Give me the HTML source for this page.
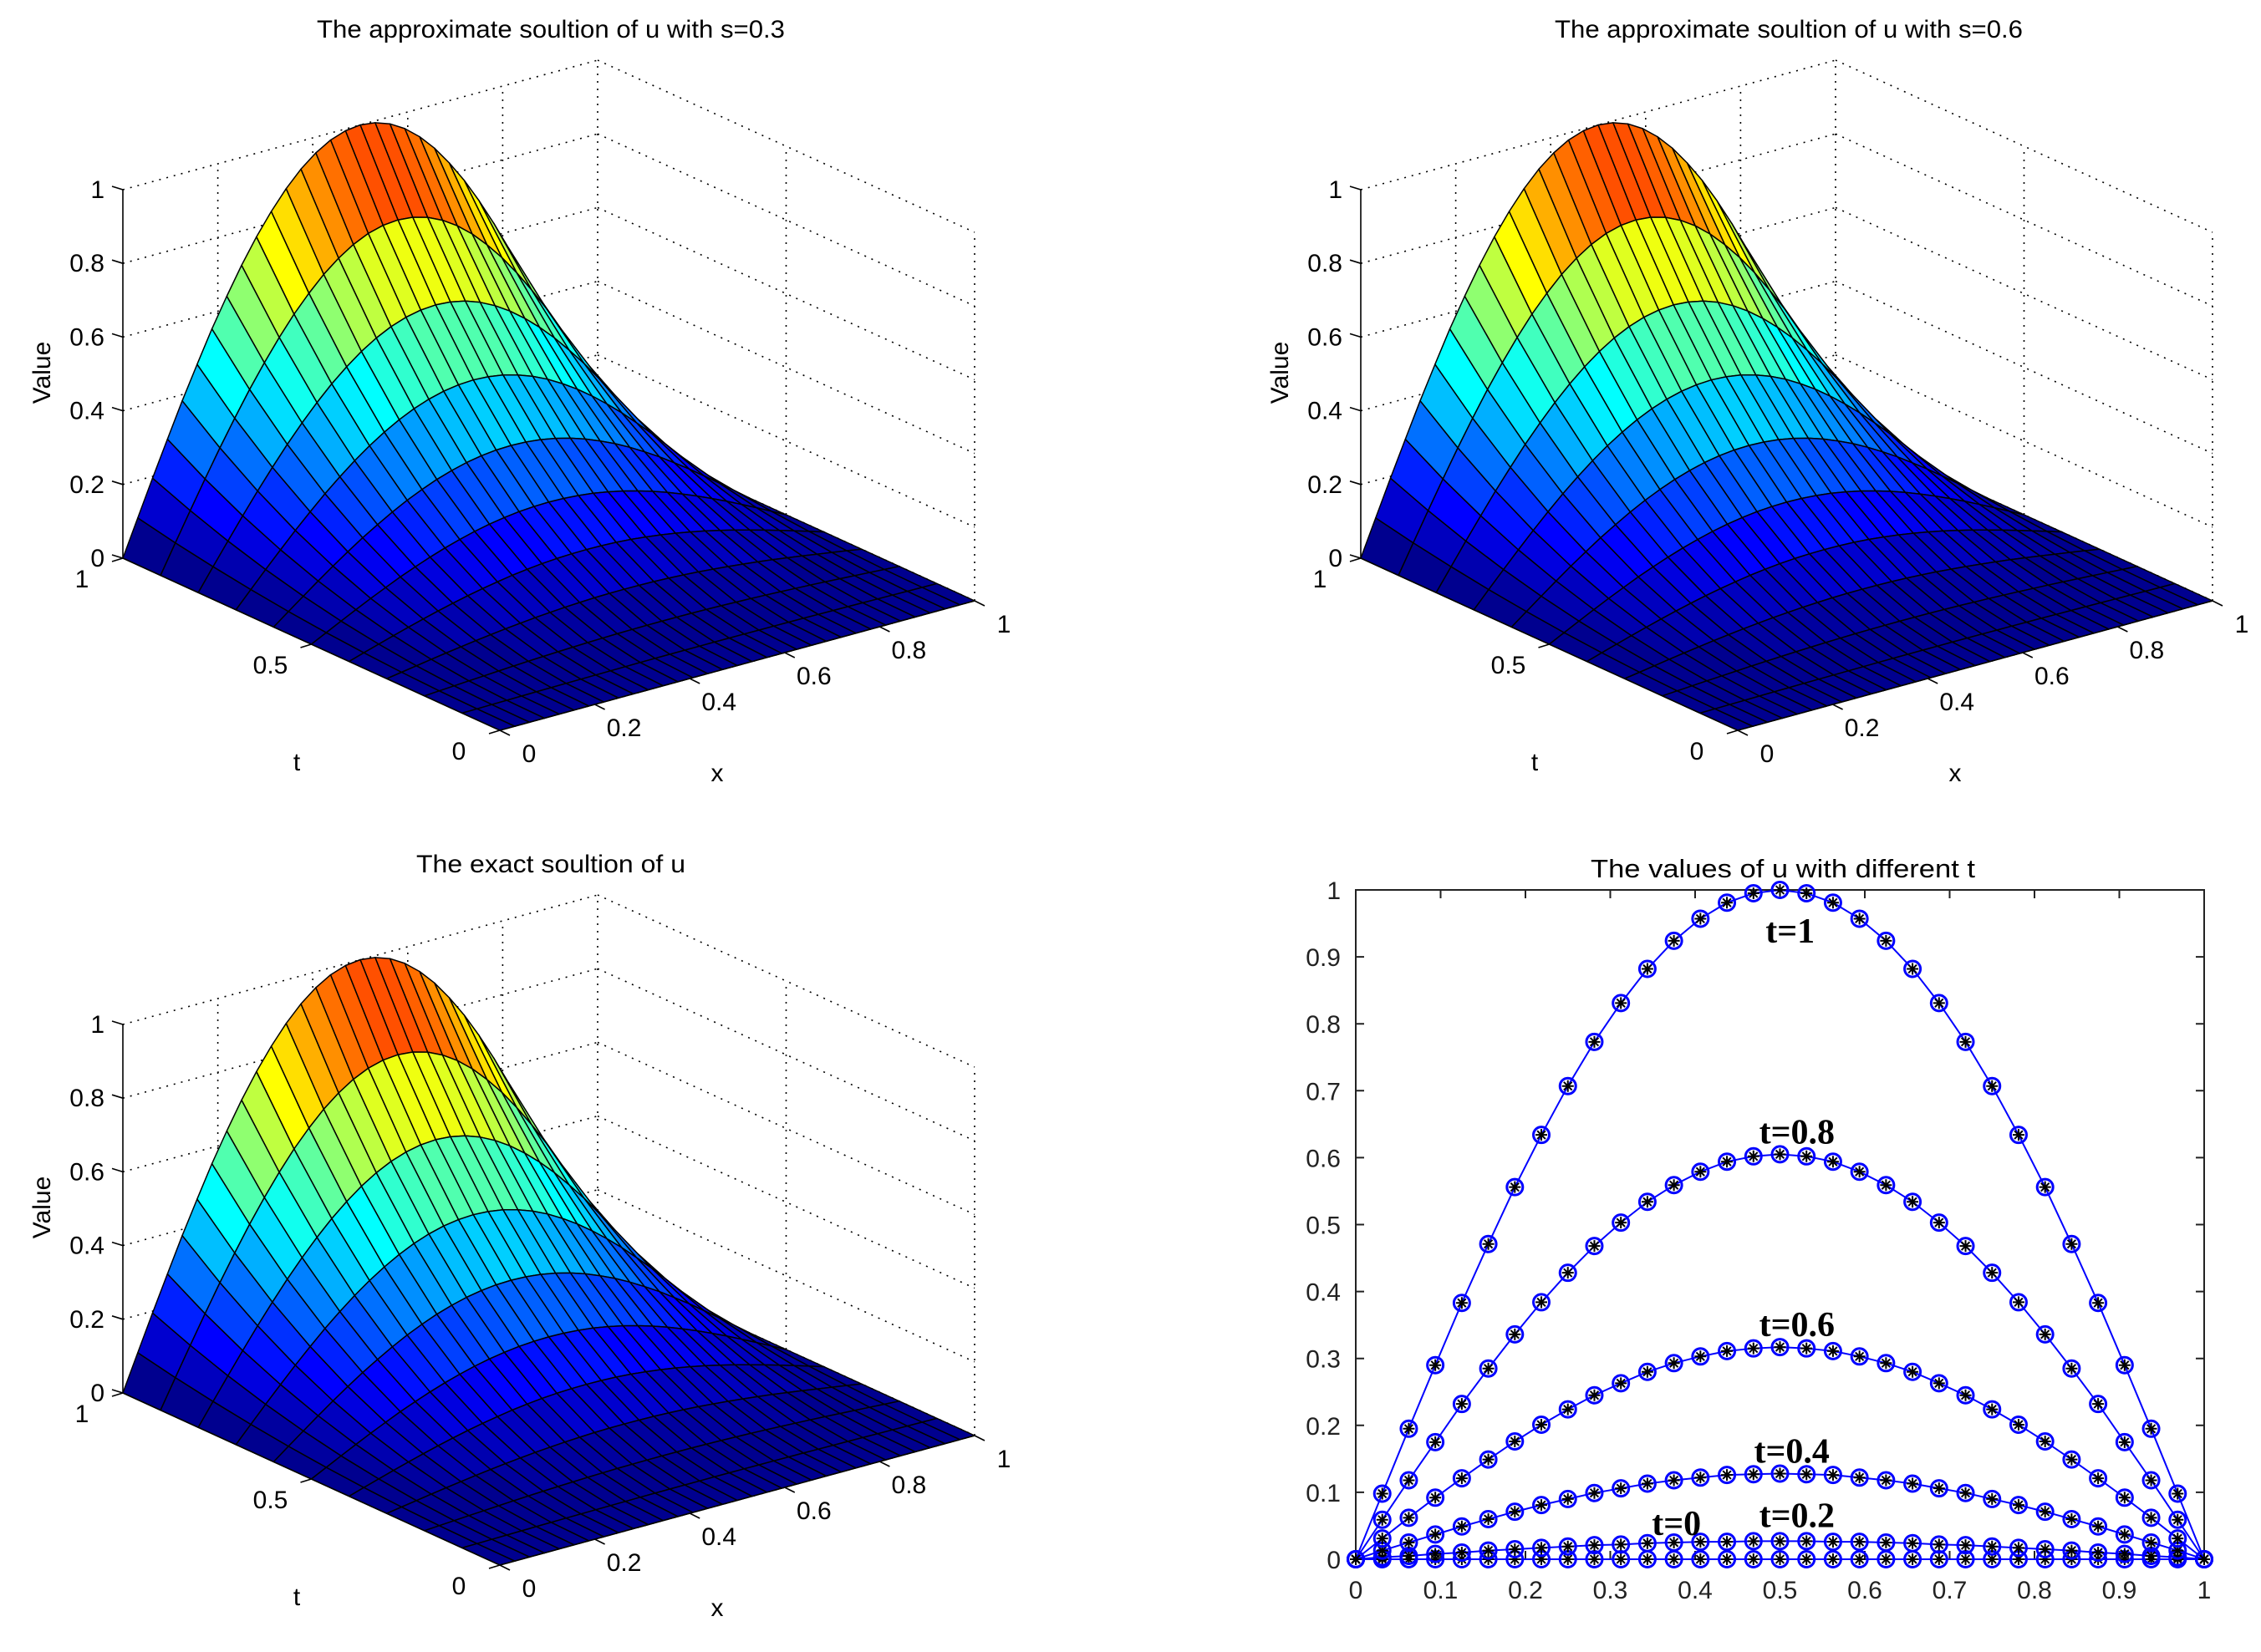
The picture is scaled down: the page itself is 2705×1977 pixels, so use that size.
<!DOCTYPE html>
<html><head><meta charset="utf-8"><title>u solutions</title>
<style>html,body{margin:0;padding:0;background:#fff}svg{display:block}</style></head>
<body>
<svg id="fig" xmlns="http://www.w3.org/2000/svg" width="2705" height="1977" viewBox="0 0 2705 1977" font-family="Liberation Sans, Arial, sans-serif">
<rect width="2705" height="1977" fill="#fff"/>
</svg>
<script>
// ---- data ----
const xTicks3d = [0, 0.2, 0.4, 0.6, 0.8, 1];
const tTicks3d = [0, 0.5, 1];
const zTicks3d = [0, 0.2, 0.4, 0.6, 0.8, 1];
const tGrid = [0, 0.1, 0.2, 0.3, 0.4, 0.5, 0.6, 0.7, 0.8, 0.9, 1];
const ampS03 = [0, 0.006, 0.027, 0.067, 0.128, 0.21, 0.317, 0.448, 0.605, 0.789, 1];
const ampS06 = [0, 0.006, 0.027, 0.067, 0.128, 0.21, 0.317, 0.448, 0.605, 0.789, 1];
const ampExact = [0, 0.006, 0.027, 0.067, 0.128, 0.21, 0.317, 0.448, 0.605, 0.789, 1];
const half1 = [0, .098, .195, .290, .383, .471, .556, .634, .707, .773, .831, .882, .924, .957, .981, .995, 1];
const half08 = [0, .059, .118, .175, .232, .285, .336, .384, .428, .468, .503, .534, .559, .579, .594, .602, .605];
const half06 = [0, .031, .062, .092, .121, .149, .176, .201, .224, .245, .263, .280, .293, .303, .311, .315, .317];
const half04 = [0, .013, .025, .037, .049, .060, .071, .081, .090, .099, .106, .113, .118, .122, .126, .127, .128];
const half02 = [0, .003, .005, .008, .010, .013, .015, .017, .019, .021, .022, .024, .025, .026, .026, .027, .027];
const half00 = [0, 0, 0, 0, 0, 0, 0, 0, 0, 0, 0, 0, 0, 0, 0, 0, 0];
const xTicks2d = [0, 0.1, 0.2, 0.3, 0.4, 0.5, 0.6, 0.7, 0.8, 0.9, 1];
const yTicks2d = [0, 0.1, 0.2, 0.3, 0.4, 0.5, 0.6, 0.7, 0.8, 0.9, 1];
const seriesNames = ['t=0', 't=0.2', 't=0.4', 't=0.6', 't=0.8', 't=1'];
const labelX = [0.378, 0.52, 0.514, 0.52, 0.52, 0.512];
const labelY = [0.055, 0.067, 0.163, 0.352, 0.64, 0.94];

const mirror = h => h.concat(h.slice(0, -1).reverse());
const profile = mirror(half1);
const xs = profile.map((_, i) => i / (profile.length - 1));
const series = [half00, half02, half04, half06, half08, half1].map(mirror);

const NS = 'http://www.w3.org/2000/svg';
const svg = document.getElementById('fig');
function mk(tag, attrs, parent) {
  const e = document.createElementNS(NS, tag);
  for (const k in attrs) e.setAttribute(k, attrs[k]);
  (parent || svg).appendChild(e);
  return e;
}
function txt(s, attrs, parent) { const e = mk('text', attrs, parent); e.textContent = s; return e; }

// MATLAB jet(64)
function jet(v) {
  let i = Math.floor(v * 64) + 1; if (i > 64) i = 64; if (i < 1) i = 1;
  const u = k => (k < 1 || k > 47) ? 0 : (k <= 16 ? k / 16 : (k <= 31 ? 1 : (48 - k) / 16));
  const r = u(i - 24), g = u(i - 8), b = u(i + 8);
  return `rgb(${Math.round(r*255)},${Math.round(g*255)},${Math.round(b*255)})`;
}

function panel3d(dx, dy, amp, title, name) {
  const g = mk('g', {});
  
  
  const P = (x, t, z) => [147 + dx + 568 * x + 451 * (1 - t), 668 + dy - 155 * x + 206 * (1 - t) - 441 * z];
  const line = (a, b, st, nm) => {
    const l = mk('line', {x1: a[0], y1: a[1], x2: b[0], y2: b[1], stroke: '#000', 'stroke-width': 1.6}, g);
    if (st) l.setAttribute('stroke-dasharray', '2 7');
    
    
  };
  zTicks3d.forEach(z => {
    line(P(0, 1, z), P(1, 1, z), true, 'grid-z-back');
    line(P(1, 1, z), P(1, 0, z), true, 'grid-z-side');
  });
  xTicks3d.slice(1).forEach(x => { line(P(x, 1, 0), P(x, 1, 1), true, 'grid-x-wall'); line(P(x, 1, 0), P(x, 0, 0), true, 'grid-x-floor'); });
  tTicks3d.slice(0, 2).forEach(t => { line(P(1, t, 0), P(1, t, 1), true, 'grid-t-wall'); line(P(0, t, 0), P(1, t, 0), true, 'grid-t-floor'); });
  const facets = [];
  for (let i = 0; i < xs.length - 1; i++) for (let j = 0; j < tGrid.length - 1; j++) {
    const z = (a, b) => amp[b] * profile[a];
    const pts = [P(xs[i], tGrid[j], z(i, j)), P(xs[i+1], tGrid[j], z(i+1, j)), P(xs[i+1], tGrid[j+1], z(i+1, j+1)), P(xs[i], tGrid[j+1], z(i, j+1))];
    const xc = (xs[i] + xs[i+1]) / 2, tc = (tGrid[j] + tGrid[j+1]) / 2;
    facets.push({pts, c: z(i, j), key: -155 * xc + 206 * (1 - tc)});
  }
  facets.sort((a, b) => a.key - b.key);
  const sg = mk('g', {}, g);
  
  
  facets.forEach(f => {
    const p = mk('polygon', {points: f.pts.map(q => q[0].toFixed(1) + ',' + q[1].toFixed(1)).join(' '), fill: jet(f.c), stroke: '#000', 'stroke-width': 1.5, 'stroke-linejoin': 'round'}, sg);
    
    
  });
  line(P(0, 1, 0), P(0, 1, 1), false, 'z-axis');
  line(P(0, 1, 0), P(0, 0, 0), false, 't-axis');
  line(P(0, 0, 0), P(1, 0, 0), false, 'x-axis');
  const fs = 30;
  zTicks3d.forEach(z => {
    const p = P(0, 1, z);
    line(p, [p[0] - 13, p[1] - 4], false, 'z-tick');
    const e = txt(String(z), {x: p[0] - 22, y: p[1] + 10, 'font-size': fs, 'text-anchor': 'end', fill: '#000'}, g);
     
  });
  xTicks3d.forEach(x => {
    const p = P(x, 0, 0);
    line(p, [p[0] + 12, p[1] + 6], false, 'x-tick');
    const e = txt(String(x), {x: p[0] + 35, y: p[1] + 38, 'font-size': fs, 'text-anchor': 'middle', fill: '#000'}, g);
     
  });
  tTicks3d.forEach(t => {
    const p = P(0, t, 0);
    line(p, [p[0] - 13, p[1] + 4], false, 't-tick');
    const e = txt(String(t), {x: p[0] - 49, y: p[1] + 35, 'font-size': fs, 'text-anchor': 'middle', fill: '#000'}, g);
     
  });
  let e = txt('x', {x: 858 + dx, y: 935 + dy, 'font-size': fs, 'text-anchor': 'middle'}, g);
   
  e = txt('t', {x: 355 + dx, y: 922 + dy, 'font-size': fs, 'text-anchor': 'middle'}, g);
   
  e = txt('Value', {x: 0, y: 0, 'font-size': fs, 'text-anchor': 'middle', transform: `translate(${60 + dx},${446 + dy}) rotate(-90)`}, g);
   
  e = txt(title, {x: 659 + dx, y: 45 + dy, 'font-size': 30, 'text-anchor': 'middle', textLength: title.length * 14, lengthAdjust: 'spacingAndGlyphs'}, g);
   
}

panel3d(0, 0, ampS03, 'The approximate soultion of u with s=0.3', 'surface-plot-s03');
panel3d(1481, 0, ampS06, 'The approximate soultion of u with s=0.6', 'surface-plot-s06');
panel3d(0, 999, ampExact, 'The exact soultion of u', 'surface-plot-exact');

// ---- 2D chart ----
(function () {
  const L = 1622, R = 2637, T = 1065, B = 1866;
  const sx = v => L + v * (R - L), sy = v => B - v * (B - T);
  const g = mk('g', {});
  
  
  let e = mk('rect', {x: L, y: T, width: R - L, height: B - T, fill: 'none', stroke: '#222', 'stroke-width': 2}, g);
   
  xTicks2d.forEach(v => {
    e = mk('path', {d: `M${sx(v)},${B}v-10M${sx(v)},${T}v10`, stroke: '#222', 'stroke-width': 2}, g);
     
    e = txt(String(v), {x: sx(v), y: B + 47, 'font-size': 30, 'text-anchor': 'middle', fill: '#222'}, g);
     
  });
  yTicks2d.forEach(v => {
    e = mk('path', {d: `M${L},${sy(v)}h10M${R},${sy(v)}h-10`, stroke: '#222', 'stroke-width': 2}, g);
     
    e = txt(String(v), {x: L - 18, y: sy(v) + 11, 'font-size': 30, 'text-anchor': 'end', fill: '#222'}, g);
     
  });
  series.forEach((vals, si) => {
    const sg = mk('g', {}, g);
    
    
    const pl = mk('polyline', {points: vals.map((v, i) => sx(xs[i]) + ',' + sy(v)).join(' '), fill: 'none', stroke: '#0000ff', 'stroke-width': 2}, sg);
     
    vals.forEach((v, i) => {
      const cx = sx(xs[i]), cy = sy(v), r = 7, d = r * 0.7;
      const a = mk('path', {d: `M${cx},${cy - r}v${2*r}M${cx - r},${cy}h${2*r}M${cx - d},${cy - d}l${2*d},${2*d}M${cx - d},${cy + d}l${2*d},${-2*d}`, stroke: '#000', 'stroke-width': 2}, sg);
       
      const c = mk('circle', {cx, cy, r: 9.5, fill: 'none', stroke: '#0000ff', 'stroke-width': 3}, sg);
       
    });
  });
  seriesNames.forEach((s, i) => {
    e = txt(s, {x: sx(labelX[i]), y: sy(labelY[i]) + 15, 'font-size': 42, 'font-weight': 'bold', 'font-family': 'Liberation Serif, Times New Roman, serif', 'text-anchor': 'middle'}, g);
     
  });
  const ttl = 'The values of u with different t';
  e = txt(ttl, {x: 2133, y: 1050, 'font-size': 31, 'text-anchor': 'middle', textLength: 460, lengthAdjust: 'spacingAndGlyphs', fill: '#000'}, g);
   
})();
</script>
</body></html>
